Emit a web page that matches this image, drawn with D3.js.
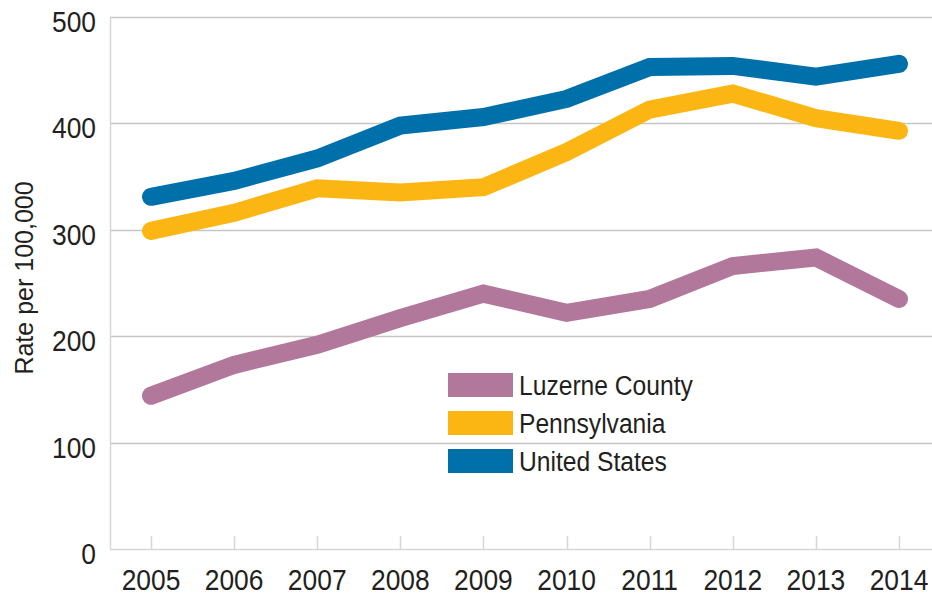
<!DOCTYPE html>
<html>
<head>
<meta charset="utf-8">
<script src="https://cdn.jsdelivr.net/npm/d3@7"></script>
<style>
  body { margin: 0; background: #fff; }
  text { font-family: "Liberation Sans", Arial, sans-serif; fill: #231f20; }
</style>
</head>
<body>
<script>
var w = 932;
var h = 597;

var years = [2005, 2006, 2007, 2008, 2009, 2010, 2011, 2012, 2013, 2014];
var luzerne = [144, 173, 192, 217, 240, 222, 235, 266, 274, 235];
var pennsylvania = [299, 316, 339, 335, 340, 373, 413, 428, 405, 393];
var unitedStates = [331, 346, 367, 398, 406, 423, 453, 454, 444, 456];
var yTicks = [0, 100, 200, 300, 400, 500];

var seriesNames = ["Luzerne County", "Pennsylvania", "United States"];
var seriesColors = ["#b1789c", "#fcb614", "#0070ab"];
var seriesValues = [luzerne, pennsylvania, unitedStates];

var margin = { left: 110, right: 0, top: 17, bottom: 48 };
var narrow = 0.88; // squeeze to mimic the condensed face

var xScale = d3
  .scalePoint()
  .domain(years)
  .range([151, 899]);

var yScale = d3
  .scaleLinear()
  .domain([0, 500])
  .range([h - margin.bottom, margin.top]);

var svg = d3.select("body").append("svg").attr("width", w).attr("height", h);

//Gridlines
svg
  .selectAll("line.grid")
  .data(yTicks.filter(function (d) { return d > 0; }))
  .enter()
  .append("line")
  .attr("class", "grid")
  .attr("x1", margin.left)
  .attr("x2", w)
  .attr("y1", function (d) { return Math.round(yScale(d)) + 0.5; })
  .attr("y2", function (d) { return Math.round(yScale(d)) + 0.5; })
  .attr("stroke", "#c4c8c4")
  .attr("stroke-width", 1.3);

//Axes lines
svg.append("line")
  .attr("x1", margin.left + 0.5).attr("x2", margin.left + 0.5)
  .attr("y1", margin.top).attr("y2", yScale(0))
  .attr("stroke", "#d3d8d3").attr("stroke-width", 1.5);
svg.append("line")
  .attr("x1", margin.left).attr("x2", w)
  .attr("y1", Math.round(yScale(0)) + 0.5).attr("y2", Math.round(yScale(0)) + 0.5)
  .attr("stroke", "#d3d8d3").attr("stroke-width", 1.5);

//X ticks
svg
  .selectAll("line.xtick")
  .data(years)
  .enter()
  .append("line")
  .attr("class", "xtick")
  .attr("x1", function (d) { return Math.round(xScale(d)) + 0.5; })
  .attr("x2", function (d) { return Math.round(xScale(d)) + 0.5; })
  .attr("y1", yScale(0) - 13)
  .attr("y2", yScale(0))
  .attr("stroke", "#d3d8d3")
  .attr("stroke-width", 1.5);

//Y tick labels
svg
  .selectAll("text.ylab")
  .data(yTicks)
  .enter()
  .append("text")
  .attr("class", "ylab")
  .text(function (d) { return d; })
  .attr("text-anchor", "end")
  .attr("transform", function (d) {
    return "translate(96," + (yScale(d) + 15) + ") scale(" + narrow + ",1)";
  })
  .attr("font-size", "30px");

//X tick labels
svg
  .selectAll("text.xlab")
  .data(years)
  .enter()
  .append("text")
  .attr("class", "xlab")
  .text(function (d) { return d; })
  .attr("text-anchor", "middle")
  .attr("transform", function (d) {
    return "translate(" + xScale(d) + ",590) scale(" + narrow + ",1)";
  })
  .attr("font-size", "30px");

//Y axis title
svg.append("text")
  .text("Rate per 100,000")
  .attr("text-anchor", "middle")
  .attr("transform", "translate(33,278) rotate(-90)")
  .attr("font-size", "25px");

//Lines
var line = d3
  .line()
  .x(function (d, i) { return xScale(years[i]); })
  .y(function (d) { return yScale(d); });

svg
  .selectAll("path.series")
  .data(seriesValues)
  .enter()
  .append("path")
  .attr("class", "series")
  .attr("d", line)
  .attr("fill", "none")
  .attr("stroke", function (d, i) { return seriesColors[i]; })
  .attr("stroke-width", 18)
  .attr("stroke-linecap", "round")
  .attr("stroke-linejoin", "miter");

//Legend
var legend = svg
  .selectAll("g.legend")
  .data(seriesNames)
  .enter()
  .append("g")
  .attr("class", "legend")
  .attr("transform", function (d, i) { return "translate(448," + (373 + i * 38) + ")"; });

legend.append("rect")
  .attr("width", 65)
  .attr("height", 24)
  .attr("fill", function (d, i) { return seriesColors[i]; });

legend.append("text")
  .text(function (d) { return d; })
  .attr("transform", "translate(71,22) scale(" + narrow + ",1)")
  .attr("font-size", "28px");
</script>
</body>
</html>
